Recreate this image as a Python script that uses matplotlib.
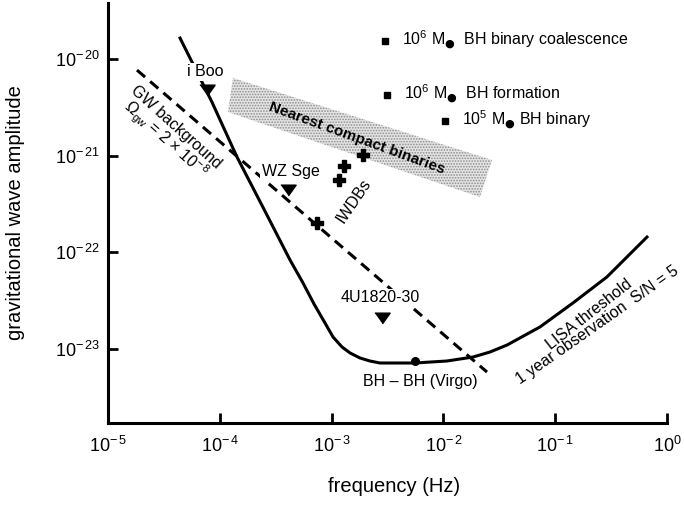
import matplotlib
matplotlib.use("Agg")
import matplotlib.pyplot as plt
from matplotlib.patches import Polygon

plt.rcParams['font.family'] = ['Liberation Sans', 'DejaVu Sans']
plt.rcParams['mathtext.fontset'] = 'custom'
plt.rcParams['mathtext.rm'] = 'Liberation Sans'
plt.rcParams['mathtext.it'] = 'Liberation Sans:italic'
plt.rcParams['mathtext.bf'] = 'Liberation Sans:bold'
plt.rcParams['mathtext.sf'] = 'DejaVu Sans'
plt.rcParams['hatch.linewidth'] = 0.8

# ---------------- data ----------------
# LISA threshold (1 yr, S/N = 5)
lisa_f = [4.41e-5, 8.51e-5, 1.426e-4, 2.43e-4, 4.25e-4, 5.55e-4, 6.97e-4,
          8.73e-4, 1.030e-3, 1.239e-3, 1.462e-3, 1.795e-3, 2.20e-3, 2.71e-3,
          5.57e-3, 1.076e-2, 1.841e-2, 2.61e-2, 3.71e-2, 7.31e-2, 0.1442,
          0.290, 0.662]
lisa_h = [1.648e-20, 3.59e-21, 9.68e-22, 2.94e-22, 8.34e-23, 4.83e-23, 2.92e-23,
          1.862e-23, 1.334e-23, 1.052e-23, 9.12e-24, 8.09e-24, 7.53e-24, 7.18e-24,
          7.18e-24, 7.53e-24, 8.28e-24, 9.33e-24, 1.102e-23, 1.694e-23, 3.00e-23,
          5.57e-23, 1.442e-22]

# GW background Omega_gw = 2e-8
gwb_f = [1.816e-5, 2.455e-2]
gwb_h = [7.69e-21, 5.79e-24]

# Nearest compact binaries band
band_f = [1.312e-4, 1.183e-4, 2.123e-2, 2.72e-2]
band_h = [6.37e-21, 2.83e-21, 3.74e-22, 9.04e-22]

# Known binaries (triangles)
tri_names = ['i Boo', 'WZ Sge', '4U1820-30']
tri_f = [7.69e-5, 4.07e-4, 2.82e-3]
tri_h = [4.78e-21, 4.42e-22, 2.10e-23]

# BH-BH (Virgo)
bhbh_f = [5.57e-3]
bhbh_h = [7.53e-24]

# IWDBs (crosses)
iwdb_f = [1.91e-3, 1.29e-3, 1.16e-3, 7.40e-4]
iwdb_h = [1.016e-21, 7.82e-22, 5.61e-22, 2.01e-22]

# Massive BH sources (squares)
SUN = '$_{\\mathsf{\u25cf}}$'
sq_labels = ['10$^6$ M' + SUN + '  BH binary coalescence',
             '10$^6$ M' + SUN + '  BH formation',
             '10$^5$ M' + SUN + ' BH binary']
sq_f = [3.01e-3, 3.13e-3, 1.03e-2]
sq_h = [1.535e-20, 4.25e-21, 2.29e-21]

xticks = [1e-5, 1e-4, 1e-3, 1e-2, 1e-1, 1e0]
xticklabels = [r'$10^{-\,5}$', r'$10^{-\,4}$', r'$10^{-\,3}$', r'$10^{-\,2}$',
               r'$10^{-\,1}$', r'$10^{0}$']
yticks = [1e-20, 1e-21, 1e-22, 1e-23]
yticklabels = [r'$10^{-\,20}$', r'$10^{-\,21}$', r'$10^{-\,22}$', r'$10^{-\,23}$']

# ---------------- figure ----------------
fig = plt.figure(figsize=(6.84, 5.07), dpi=100)
ax = fig.add_axes([108/684, 84/507, 559/684, 420/507])
ax.set_xscale('log')
ax.set_yscale('log')
ax.set_xlim(1e-5, 1e0)
ax.set_ylim(1.72e-24, 3.8e-20)

for s in ['top', 'right']:
    ax.spines[s].set_visible(False)
for s in ['left', 'bottom']:
    ax.spines[s].set_linewidth(2.2)

ax.minorticks_off()
ax.set_xticks(xticks)
ax.set_xticklabels(xticklabels)
ax.set_yticks(yticks)
ax.set_yticklabels(yticklabels)
ax.tick_params(axis='both', direction='in', length=7, width=2, labelsize=13)
ax.tick_params(axis='x', pad=9)
ax.tick_params(axis='y', pad=6)

ax.set_xlabel('frequency (Hz)', fontsize=14.5)
ax.xaxis.set_label_coords(0.512, -0.128)
ax.set_ylabel('gravitational wave amplitude', fontsize=14.5)
ax.yaxis.set_label_coords(-0.148, 0.5)

# band
band = Polygon(list(zip(band_f, band_h)), closed=True, facecolor='#e4e4e4',
               edgecolor='#8c8c8c', hatch='......', linewidth=0, zorder=1)
ax.add_patch(band)

# curves
ax.plot(lisa_f, lisa_h, color='black', lw=2.2, zorder=3,
        solid_joinstyle='round')
ax.plot(gwb_f, gwb_h, color='black', lw=2.2, ls=(0, (3.5, 2.2)), zorder=3)

tri_marker = [(-1, 0.7), (1, 0.7), (0, -0.7)]
ax.plot(tri_f, tri_h, ls='none', marker=tri_marker, markersize=11,
        color='black', zorder=6)
ax.plot(bhbh_f, bhbh_h, ls='none', marker='o', markersize=5.5,
        color='black', zorder=6)
ax.plot(iwdb_f, iwdb_h, ls='none', marker='P', markersize=9,
        color='black', zorder=6)
ax.plot(sq_f, sq_h, ls='none', marker='s', markersize=5,
        color='black', zorder=6)

wb = dict(facecolor='white', edgecolor='none', pad=1.0)
tri_offsets = [(-1.5, 13), (2, 13), (-1.5, 14.5)]
for name, f, h, off in zip(tri_names, tri_f, tri_h, tri_offsets):
    ax.annotate(name, xy=(f, h), xytext=off, textcoords='offset points',
                ha='center', va='center', fontsize=11.5, bbox=wb, zorder=5)

ax.annotate('BH \u2013 BH (Virgo)', xy=(bhbh_f[0], bhbh_h[0]), xytext=(3.5, -15),
            textcoords='offset points', ha='center', va='center', fontsize=11.5)

for lab, f, h in zip(sq_labels, sq_f, sq_h):
    ax.annotate(lab, xy=(f, h), xytext=(12, 1), textcoords='offset points',
                ha='left', va='center', fontsize=11.5)

ax.text(4.06e-5, 1.98e-21, 'GW background', rotation=-42, ha='center',
        va='center', fontsize=11.5, rotation_mode='anchor')
ax.text(3.24e-5, 1.45e-21, r'$\Omega_{\rm gw}$ = 2 $\times$ 10$^{-\,8}$',
        rotation=-42, ha='center', va='center', fontsize=11.5,
        rotation_mode='anchor')
ax.text(1.69e-3, 1.52e-21, 'Nearest compact binaries', rotation=-20,
        ha='center', va='center', fontsize=11, fontweight='bold',
        rotation_mode='anchor', zorder=4)
ax.text(1.585e-3, 3.40e-22, 'IWDBs', rotation=56, ha='center', va='center',
        fontsize=11.5, rotation_mode='anchor')
ax.text(0.2004, 2.31e-23, 'LISA threshold', rotation=38, ha='center',
        va='center', fontsize=11.5, rotation_mode='anchor')
ax.text(0.2366, 1.77e-23, '1 year observation  S/N = 5', rotation=35,
        ha='center', va='center', fontsize=11.5, rotation_mode='anchor')

fig.savefig('out.png', dpi=100)
